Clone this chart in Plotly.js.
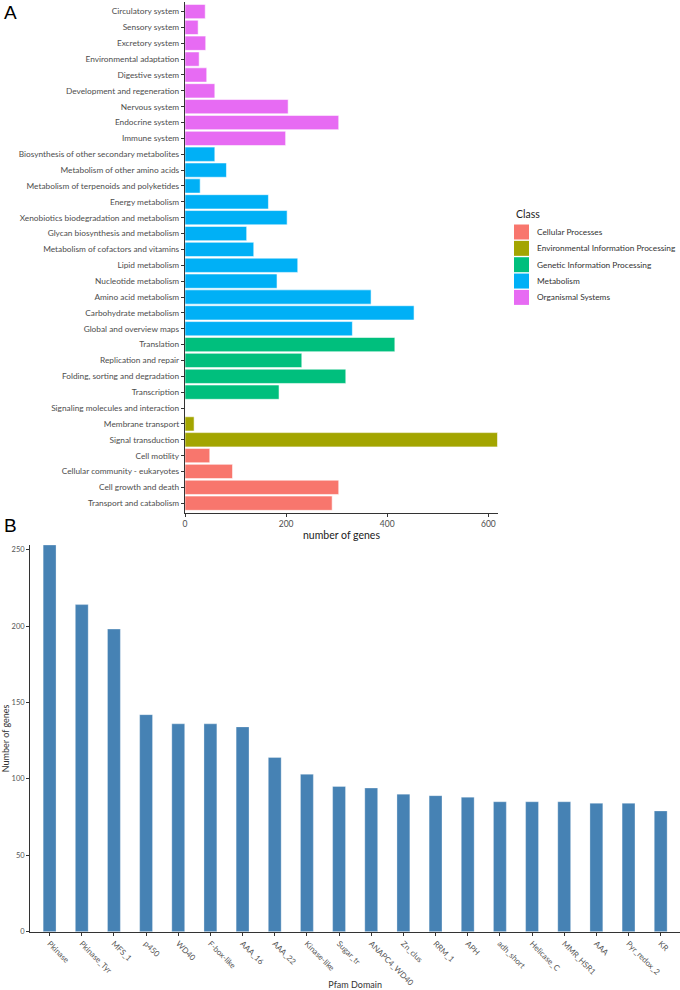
<!DOCTYPE html>
<html><head><meta charset="utf-8">
<script src="https://cdn.plot.ly/plotly-3.0.1.min.js"></script>
<style>body{margin:0;background:#fff;overflow:hidden}#chart{width:680px;height:990px}</style>
</head><body><div id="chart"></div>
<script>
// Panel A: KEGG pathways, listed top to bottom
const pathways = [
  "Circulatory system","Sensory system","Excretory system","Environmental adaptation",
  "Digestive system","Development and regeneration","Nervous system","Endocrine system",
  "Immune system","Biosynthesis of other secondary metabolites","Metabolism of other amino acids",
  "Metabolism of terpenoids and polyketides","Energy metabolism","Xenobiotics biodegradation and metabolism",
  "Glycan biosynthesis and metabolism","Metabolism of cofactors and vitamins","Lipid metabolism",
  "Nucleotide metabolism","Amino acid metabolism","Carbohydrate metabolism","Global and overview maps",
  "Translation","Replication and repair","Folding, sorting and degradation","Transcription",
  "Signaling molecules and interaction","Membrane transport","Signal transduction",
  "Cell motility","Cellular community - eukaryotes","Cell growth and death","Transport and catabolism"
];
const pathwayGenes = [
  40, 26, 41, 28, 43, 59, 204, 304,
  199, 59, 82,
  30, 165, 202,
  122, 136, 223,
  182, 368, 453, 331,
  415, 231, 318, 186,
  0, 18, 618,
  49, 94, 304, 291
];
const pathwayClass = [
  "Organismal Systems","Organismal Systems","Organismal Systems","Organismal Systems",
  "Organismal Systems","Organismal Systems","Organismal Systems","Organismal Systems",
  "Organismal Systems","Metabolism","Metabolism",
  "Metabolism","Metabolism","Metabolism",
  "Metabolism","Metabolism","Metabolism",
  "Metabolism","Metabolism","Metabolism","Metabolism",
  "Genetic Information Processing","Genetic Information Processing","Genetic Information Processing","Genetic Information Processing",
  "Environmental Information Processing","Environmental Information Processing","Environmental Information Processing",
  "Cellular Processes","Cellular Processes","Cellular Processes","Cellular Processes"
];
const classNames = ["Cellular Processes","Environmental Information Processing","Genetic Information Processing","Metabolism","Organismal Systems"];
const classColors = ["#F8766D","#A3A500","#00BF7D","#00B0F6","#E76BF3"];

// Panel B: Pfam domains
const domains = ["Pkinase","Pkinase_Tyr","MFS_1","p450","WD40","F-box-like","AAA_16","AAA_22","Kinase-like","Sugar_tr",
  "ANAPC4_WD40","Zn_clus","RRM_1","APH","adh_short","Helicase_C","MMR_HSR1","AAA","Pyr_redox_2","KR"];
const domainGenes = [253,214,198,142,136,136,134,114,103,95,94,90,89,88,85,85,85,84,84,79];

const W = 680, H = 990;
const px = v => v / W, py = v => (H - v) / H;
const FONT = "Lato, 'Open Sans', sans-serif";

const traces = [];
classNames.forEach((cn, ci) => {
  const ys = [], xs = [];
  pathways.forEach((p, i) => { if (pathwayClass[i] === cn) { ys.push(p); xs.push(pathwayGenes[i]); } });
  traces.push({
    type: "bar", orientation: "h", x: xs, y: ys, name: cn,
    xaxis: "x", yaxis: "y", width: 0.9,
    marker: {color: classColors[ci], line: {color: "rgba(255,255,255,0.7)", width: 0.8}},
    showlegend: false
  });
});
traces.push({
  type: "bar", x: domains, y: domainGenes, xaxis: "x2", yaxis: "y2", width: 0.4,
  marker: {color: "#4682B4", line: {color: "rgba(255,255,255,0.5)", width: 0.6}},
  showlegend: false
});

// Legend (Class) built from classNames / classColors
const legendShapes = [], legendAnn = [];
const legX = 514, legY0 = 224.5, legStep = 16.35, keySize = 15;
legendAnn.push({text: "Class", x: px(legX), y: py(214), xref: "paper", yref: "paper", xanchor: "left", yanchor: "middle",
  showarrow: false, font: {size: 10.5, color: "#222", family: FONT}});
classNames.forEach((cn, i) => {
  const top = legY0 + i * legStep;
  legendShapes.push({type: "rect", xref: "paper", yref: "paper", x0: px(legX), x1: px(legX + keySize),
    y0: py(top), y1: py(top + keySize), fillcolor: classColors[i], line: {width: 0}});
  legendAnn.push({text: cn, x: px(legX + 21), y: py(top + keySize / 2), xref: "paper", yref: "paper",
    xanchor: "left", yanchor: "middle", showarrow: false, font: {size: 8.3, color: "#333", family: FONT}});
});

const axisLine = {showline: true, linecolor: "#333", linewidth: 1.2, ticks: "outside", ticklen: 3, tickcolor: "#333", tickwidth: 1, showgrid: false, zeroline: false, automargin: false};

const layout = {
  width: W, height: H,
  margin: {l: 0, r: 0, t: 0, b: 0, autoexpand: false},
  paper_bgcolor: "#fff", plot_bgcolor: "#fff",
  font: {family: FONT, color: "#4d4d4d"},
  barmode: "overlay",
  showlegend: false,
  xaxis: Object.assign({}, axisLine, {
    domain: [px(185), px(498)], anchor: "y", range: [0, 619],
    tickvals: [0, 200, 400, 600], tickfont: {size: 8.5, color: "#4d4d4d"},
    title: {text: "number of genes", font: {size: 10.5, color: "#222"}, standoff: 1}
  }),
  yaxis: Object.assign({}, axisLine, {
    domain: [py(512.7), py(2)], anchor: "x", type: "category",
    categoryorder: "array", categoryarray: pathways, range: [31.6, -0.6],
    tickfont: {size: 8.3, color: "#4d4d4d"}
  }),
  xaxis2: Object.assign({}, axisLine, {
    domain: [px(30.3), px(680)], anchor: "y2", type: "category",
    categoryorder: "array", categoryarray: domains, range: [-0.6, 19.6],
    tickangle: 45, tickfont: {size: 8, color: "#555"},
    title: {text: "Pfam Domain", font: {size: 9, color: "#333"}, standoff: 8}
  }),
  yaxis2: Object.assign({}, axisLine, {
    domain: [py(931.7), py(545)], anchor: "x2", range: [0, 253],
    tickvals: [0, 50, 100, 150, 200, 250], tickfont: {size: 7.5, color: "#555"},
    title: {text: "Number of genes", font: {size: 9, color: "#333"}, standoff: 6}
  }),
  shapes: legendShapes,
  annotations: legendAnn.concat([
    {text: "A", x: px(2), y: py(13), xref: "paper", yref: "paper", xanchor: "left", yanchor: "middle", showarrow: false, font: {size: 19, color: "#000", family: "Liberation Sans, Arial, sans-serif"}},
    {text: "B", x: px(2), y: py(525), xref: "paper", yref: "paper", xanchor: "left", yanchor: "middle", showarrow: false, font: {size: 19, color: "#000", family: "Liberation Sans, Arial, sans-serif"}}
  ])
};

Plotly.newPlot("chart", traces, layout, {displayModeBar: false, staticPlot: true});
</script></body></html>
